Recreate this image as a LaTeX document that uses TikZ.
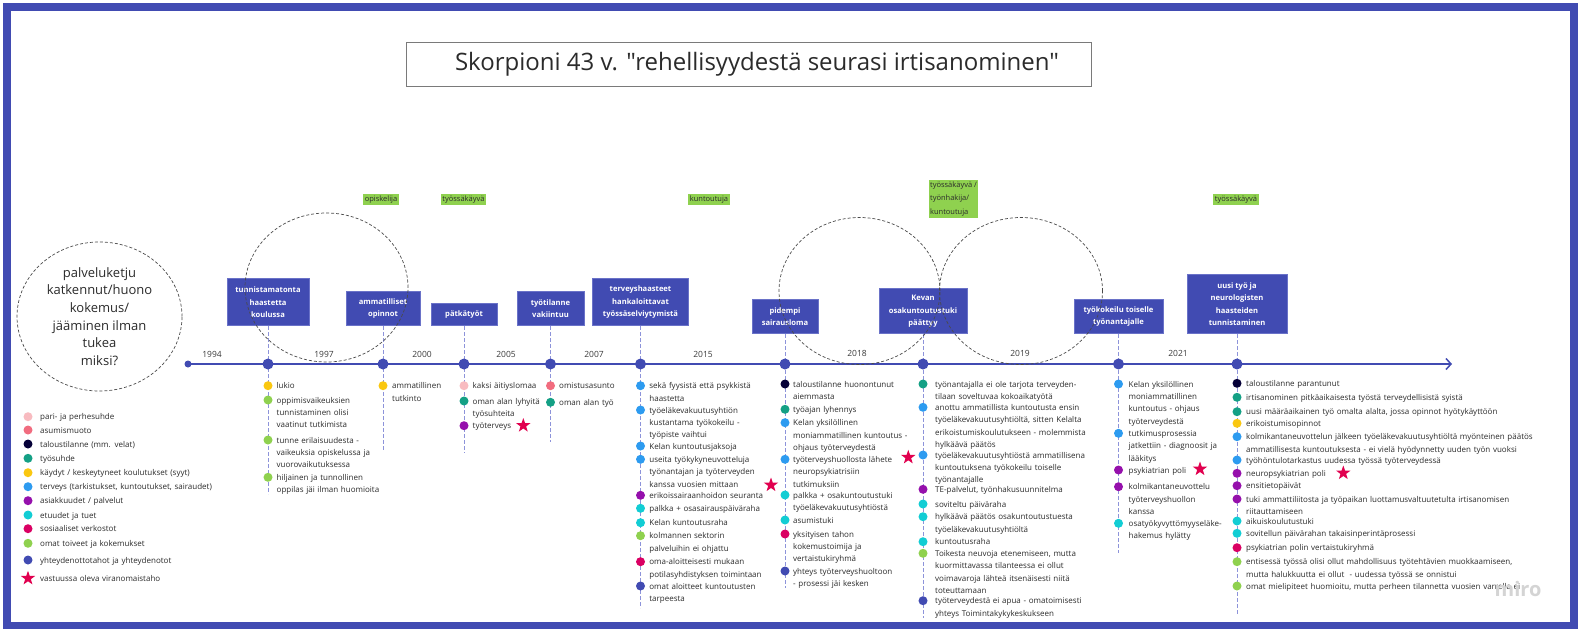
\documentclass[tikz,border=0pt]{standalone}
\usepackage{fontspec}
\setmainfont{Open Sans}
\newfontfamily\titlefont[Ligatures=TeXOff]{Open Sans}
\usetikzlibrary{shapes.geometric,arrows.meta,backgrounds}
\definecolor{ind}{HTML}{414BB2}
\definecolor{indlt}{HTML}{6A72C8}
\definecolor{connc}{HTML}{8D93DA}
\definecolor{ringc}{HTML}{4A4A4A}
\definecolor{txt}{HTML}{2B2B2B}
\definecolor{yearc}{HTML}{3A3A3A}
\definecolor{rolec}{HTML}{8FD14F}
\definecolor{titleb}{HTML}{7A7A7A}
\definecolor{cPink}{HTML}{F8BBC0}
\definecolor{cSalmon}{HTML}{F16C7F}
\definecolor{cNavy}{HTML}{050038}
\definecolor{cTeal}{HTML}{14A085}
\definecolor{cYellow}{HTML}{FAC710}
\definecolor{cBlue}{HTML}{2D9BF0}
\definecolor{cPurple}{HTML}{9510AC}
\definecolor{cCyan}{HTML}{12CDD4}
\definecolor{cCrimson}{HTML}{DA0063}
\definecolor{cGreen}{HTML}{8FD14F}
\definecolor{starc}{HTML}{E1004F}
\newcommand\evoff{9}
\newcommand\ev[5]{\node[idot,fill=#2] (#1) at (#3,#4) {};\node[itxt] (#1t) at (#3+\evoff,#4+3) {#5};}
\begin{document}
\begin{tikzpicture}[x=1pt,y=-1pt,
  idot/.style={circle,inner sep=0,minimum size=9pt},
  itxt/.style={anchor=base west,inner sep=0,text width=420pt,align=left,font=\fontsize{8}{12.4}\selectfont,text=txt},
  mdot/.style={circle,fill=ind,inner sep=0,minimum size=11pt},
  mbox/.style={rectangle,fill=ind,draw=indlt,line width=0.6pt,text=white,font=\fontsize{7.6}{12.4}\selectfont\bfseries,align=center,inner sep=1pt,anchor=south},
  conn/.style={draw=connc,line width=1pt,dash pattern=on 3.5pt off 2.5pt},
  ring/.style={ellipse,draw=ringc,line width=0.7pt,dash pattern=on 3pt off 2pt,inner sep=0},
  role/.style={fill=rolec,text=txt,font=\fontsize{7.5}{13.3}\selectfont,inner sep=1.5pt},
  vstar/.style={star,star points=5,star point ratio=2.5,fill=starc,inner sep=0,minimum size=15pt},
  year/.style={font=\fontsize{8.5}{10}\selectfont,text=yearc},
  tl/.style={draw=ind,line width=1.8pt,-{Straight Barb[length=5pt,width=11pt,line width=1.5pt]}}
]
\useasboundingbox (0,0) rectangle (1581,632);
% frame
\draw[ind,line width=7.6pt] (7,7) rectangle (1574,625.5);
% title
\node[draw=titleb,line width=0.8pt,fill=white,minimum width=685pt,minimum height=44pt,inner sep=0] (title) at (748.5,64) {};
\node[font=\titlefont\fontsize{24}{28}\selectfont,text=txt,inner sep=0] (titletext) at (757,64) {Skorpioni 43 v. "rehellisyydestä seurasi irtisanominen"};
% timeline
\node[circle,fill=ind,inner sep=0,minimum size=7pt] (t0) at (188,364) {};
\coordinate (tend) at (1452,364);
% milestones
\node[mdot] (m1) at (268,364) {};
\node[mdot] (m2) at (383,364) {};
\node[mdot] (m3) at (464,364) {};
\node[mdot] (m4) at (550.5,364) {};
\node[mdot] (m5) at (640.5,364) {};
\node[mdot] (m6) at (785,364) {};
\node[mdot] (m7) at (923,364) {};
\node[mdot] (m8) at (1118.5,364) {};
\node[mdot] (m9) at (1237,364) {};
% boxes
\node[mbox,minimum width=82pt,minimum height=47pt] (b1) at (268,326) {tunnistamatonta\\haastetta\\koulussa};
\node[mbox,minimum width=74pt,minimum height=34pt] (b2) at (383,326) {ammatilliset\\opinnot};
\node[mbox,minimum width=66pt,minimum height=22pt] (b3) at (464,326) {pätkätyöt};
\node[mbox,minimum width=67pt,minimum height=34pt] (b4) at (550.5,326) {työtilanne\\vakiintuu};
\node[mbox,minimum width=96pt,minimum height=47pt] (b5) at (640.5,326) {terveyshaasteet\\hankaloittavat\\työssäselviytymistä};
\node[mbox,minimum width=66pt,minimum height=34pt] (b6) at (785,334) {pidempi\\sairausloma};
\node[mbox,minimum width=88pt,minimum height=45pt] (b7) at (923,334) {Kevan\\osakuntoutustuki\\päättyy};
\node[mbox,minimum width=89pt,minimum height=34pt] (b8) at (1118.5,334) {työkokeilu toiselle\\työnantajalle};
\node[mbox,minimum width=100pt,minimum height=59pt] (b9) at (1237,334) {uusi työ ja\\neurologisten\\haasteiden\\tunnistaminen};
% list ends
\coordinate (e1) at (268,494);
\coordinate (e2) at (383,450);
\coordinate (e3) at (464,453);
\coordinate (e4) at (550.5,442);
\coordinate (e5) at (640.5,608);
\coordinate (e6) at (785,588);
\coordinate (e7) at (923,618);
\coordinate (e8) at (1118.5,553);
\coordinate (e9) at (1237,615);
% years
\node[year] (y1) at (212,354) {1994};
\node[year] (y2) at (324,354) {1997};
\node[year] (y3) at (422,354) {2000};
\node[year] (y4) at (506,354) {2005};
\node[year] (y5) at (594,354) {2007};
\node[year] (y6) at (703,354) {2015};
\node[year] (y7) at (857,353) {2018};
\node[year] (y8) at (1020,353) {2019};
\node[year] (y9) at (1178,353) {2021};
% roles
\node[role] (r1) at (381,199.5) {opiskelija};
\node[role] (r2) at (463.5,199.5) {työssäkäyvä};
\node[role] (r3) at (709,199.5) {kuntoutuja};
\node[role,align=left] (r4) at (953.5,199) {työssäkäyvä /\\työnhakija/\\kuntoutuja};
\node[role] (r5) at (1236,199.5) {työssäkäyvä};
% rings
\node[ring,minimum width=165pt,minimum height=149pt,align=center,font=\fontsize{13}{17.7}\selectfont,text=txt] (c0) at (99.5,316.5) {palveluketju\\katkennut/huono\\kokemus/\\jääminen ilman\\tukea\\miksi?};
\node[ring,minimum width=163pt,minimum height=149pt] (c1) at (326.5,287.5) {};
\node[ring,minimum width=161pt,minimum height=147pt] (c2) at (859.5,291) {};
\node[ring,minimum width=163pt,minimum height=147pt] (c3) at (1021,291) {};
% legend
\renewcommand\evoff{12}
\ev{g1}{cPink}{28}{416.7}{pari- ja perhesuhde}
\ev{g2}{cSalmon}{28}{430}{asumismuoto}
\ev{g3}{cNavy}{28}{444}{taloustilanne (mm. velat)}
\ev{g4}{cTeal}{28}{458.3}{työsuhde}
\ev{g5}{cYellow}{28}{472.7}{käydyt / keskeytyneet koulutukset (syyt)}
\ev{g6}{cBlue}{28}{486.7}{terveys (tarkistukset, kuntoutukset, sairaudet)}
\ev{g7}{cPurple}{28}{500.7}{asiakkuudet / palvelut}
\ev{g8}{cCyan}{28}{515}{etuudet ja tuet}
\ev{g9}{cCrimson}{28}{528.7}{sosiaaliset verkostot}
\ev{g10}{cGreen}{28}{543.3}{omat toiveet ja kokemukset}
\ev{g11}{ind}{28}{560}{yhteydenottotahot ja yhteydenotot}
\node[vstar] (gs) at (28,578.3) {};
\node[itxt] (gst) at (40,581.3) {vastuussa oleva viranomaistaho};
% column 1
\renewcommand\evoff{8.5}
\ev{a1}{cYellow}{268}{385.7}{lukio}
\ev{a2}{cGreen}{268}{400}{oppimisvaikeuksien\\tunnistaminen olisi\\vaatinut tutkimista}
\ev{a3}{cGreen}{268}{440}{tunne erilaisuudesta -\\vaikeuksia opiskelussa ja\\vuorovaikutuksessa}
\ev{a4}{cGreen}{268}{477.3}{hiljainen ja tunnollinen\\oppilas jäi ilman huomioita}
% column 2
\renewcommand\evoff{9}
\ev{bb1}{cYellow}{383}{385.7}{ammatillinen\\tutkinto}
% column 3
\renewcommand\evoff{8.5}
\ev{cc1}{cPink}{464}{385.7}{kaksi äitiyslomaa}
\ev{cc2}{cTeal}{464}{401}{oman alan lyhyitä\\työsuhteita}
\ev{cc3}{cPurple}{464}{425.7}{työterveys}
\node[vstar] (s1) at (523.3,425.5) {};
% column 4
\ev{dd1}{cSalmon}{550.5}{385.7}{omistusasunto}
\ev{dd2}{cTeal}{550.5}{402.3}{oman alan työ}
% column 5
\renewcommand\evoff{8.7}
\ev{ee1}{cBlue}{640.5}{385.7}{sekä fyysistä että psykkistä\\haastetta}
\ev{ee2}{cBlue}{640.5}{410}{työeläkevakuutusyhtiön\\kustantama työkokeilu -\\työpiste vaihtui}
\ev{ee3}{cBlue}{640.5}{446}{Kelan kuntoutusjaksoja}
\ev{ee4}{cBlue}{640.5}{459.3}{useita työkykyneuvotteluja\\työnantajan ja työterveyden\\kanssa vuosien mittaan}
\node[vstar] (s2) at (771,485) {};
\ev{ee5}{cPurple}{640.5}{495.3}{erikoissairaanhoidon seuranta}
\ev{ee6}{cCyan}{640.5}{508.3}{palkka + osasairauspäiväraha}
\ev{ee7}{cCyan}{640.5}{522.7}{Kelan kuntoutusraha}
\ev{ee8}{cGreen}{640.5}{535.7}{kolmannen sektorin\\palveluihin ei ohjattu}
\ev{ee9}{cCrimson}{640.5}{561.7}{oma-aloitteisesti mukaan\\potilasyhdistyksen toimintaan}
\ev{ee10}{ind}{640.5}{586}{omat aloitteet kuntoutusten\\tarpeesta}
% column 6
\renewcommand\evoff{8}
\ev{ff1}{cNavy}{785}{384}{taloustilanne huonontunut\\aiemmasta}
\ev{ff2}{cTeal}{785}{409.3}{työajan lyhennys}
\ev{ff3}{cBlue}{785}{422.7}{Kelan yksilöllinen\\moniammatillinen kuntoutus -\\ohjaus työterveydestä}
\ev{ff4}{cBlue}{785}{459.3}{työterveyshuollosta lähete\\neuropsykiatrisiin\\tutkimuksiin}
\node[vstar] (s3) at (908.3,457.3) {};
\ev{ff5}{cCyan}{785}{495}{palkka + osakuntoutustuki\\työeläkevakuutusyhtiöstä}
\ev{ff6}{cCyan}{785}{520}{asumistuki}
\ev{ff7}{cCrimson}{785}{534}{yksityisen tahon\\kokemustoimija ja\\vertaistukiryhmä}
\ev{ff8}{ind}{785}{571}{yhteys työterveyshuoltoon\\- prosessi jäi kesken}
% column 7
\renewcommand\evoff{12}
\ev{hh1}{cTeal}{923}{384}{työnantajalla ei ole tarjota terveyden-\\tilaan soveltuvaa kokoaikatyötä}
\ev{hh2}{cBlue}{923}{407.3}{anottu ammatillista kuntoutusta ensin\\työeläkevakuutusyhtiöltä, sitten Kelalta\\erikoistumiskoulutukseen - molemmista\\hylkäävä päätös}
\ev{hh3}{cBlue}{923}{455}{työeläkevakuutusyhtiöstä ammatillisena\\kuntoutuksena työkokeilu toiselle\\työnantajalle}
\ev{hh4}{cPurple}{923}{489.3}{TE-palvelut, työnhakusuunnitelma}
\ev{hh5}{cCyan}{923}{504}{soviteltu päiväraha}
\ev{hh6}{cCyan}{923}{516.7}{hylkäävä päätös osakuntoutustuesta\\työeläkevakuutusyhtiöltä}
\ev{hh7}{cCyan}{923}{541.7}{kuntoutusraha}
\ev{hh8}{cGreen}{923}{553.3}{Toikesta neuvoja etenemiseen, mutta\\kuormittavassa tilanteessa ei ollut\\voimavaroja lähteä itsenäisesti niitä\\toteuttamaan}
\ev{hh9}{ind}{923}{600.7}{työterveydestä ei apua - omatoimisesti\\yhteys Toimintakykykeskukseen}
% column 8
\renewcommand\evoff{10}
\ev{kk1}{cBlue}{1118.5}{384}{Kelan yksilöllinen\\moniammatillinen\\kuntoutus - ohjaus\\työterveydestä}
\ev{kk2}{cBlue}{1118.5}{433.3}{tutkimusprosessia\\jatkettiin - diagnoosit ja\\lääkitys}
\ev{kk3}{cPurple}{1118.5}{470}{psykiatrian poli}
\node[vstar] (s4) at (1200,469) {};
\ev{kk4}{cPurple}{1118.5}{486.7}{kolmikantaneuvottelu\\työterveyshuollon\\kanssa}
\ev{kk5}{cCyan}{1118.5}{523.3}{osatyökyvyttömyyseläke-\\hakemus hylätty}
% column 9
\renewcommand\evoff{9}
\ev{nn1}{cNavy}{1237}{383.3}{taloustilanne parantunut}
\ev{nn2}{cTeal}{1237}{397.3}{irtisanominen pitkäaikaisesta työstä terveydellisistä syistä}
\ev{nn3}{cTeal}{1237}{411.7}{uusi määräaikainen työ omalta alalta, jossa opinnot hyötykäyttöön}
\ev{nn4}{cYellow}{1237}{423.3}{erikoistumisopinnot}
\ev{nn5}{cBlue}{1237}{436.7}{kolmikantaneuvottelun jälkeen työeläkevakuutusyhtiöltä myönteinen päätös\\ammatillisesta kuntoutuksesta - ei vielä hyödynnetty uuden työn vuoksi}
\ev{nn6}{cBlue}{1237}{460}{työhöntulotarkastus uudessa työssä työterveydessä}
\ev{nn7}{cPurple}{1237}{473.3}{neuropsykiatrian poli}
\node[vstar] (s5) at (1343.3,473) {};
\ev{nn8}{cPurple}{1237}{485.7}{ensitietopäivät}
\ev{nn9}{cPurple}{1237}{499}{tuki ammattiliitosta ja työpaikan luottamusvaltuutetulta irtisanomisen\\riitauttamiseen}
\ev{nn10}{cCyan}{1237}{521}{aikuiskoulutustuki}
\ev{nn11}{cCyan}{1237}{533.3}{sovitellun päivärahan takaisinperintäprosessi}
\ev{nn12}{cCrimson}{1237}{547.7}{psykiatrian polin vertaistukiryhmä}
\ev{nn13}{cGreen}{1237}{561.7}{entisessä työssä olisi ollut mahdollisuus työtehtävien muokkaamiseen,\\mutta halukkuutta ei ollut\ \ - uudessa työssä se onnistui}
\ev{nn14}{cGreen}{1237}{586}{omat mielipiteet huomioitu, mutta perheen tilannetta vuosien varrella ei}
% watermark
\node[font=\fontsize{20}{20}\selectfont\bfseries,text=black!17] (wm) at (1518,589) {miro};
% background: connectors and timeline
\begin{pgfonlayer}{background}
\fill[white] (0,0) rectangle (1581,632);
\foreach \i in {1,...,9} {\draw[conn] (b\i.south) -- (m\i.center) -- (e\i);}
\draw[tl] (t0.center) -- (tend);
\end{pgfonlayer}
\end{tikzpicture}
\end{document}
